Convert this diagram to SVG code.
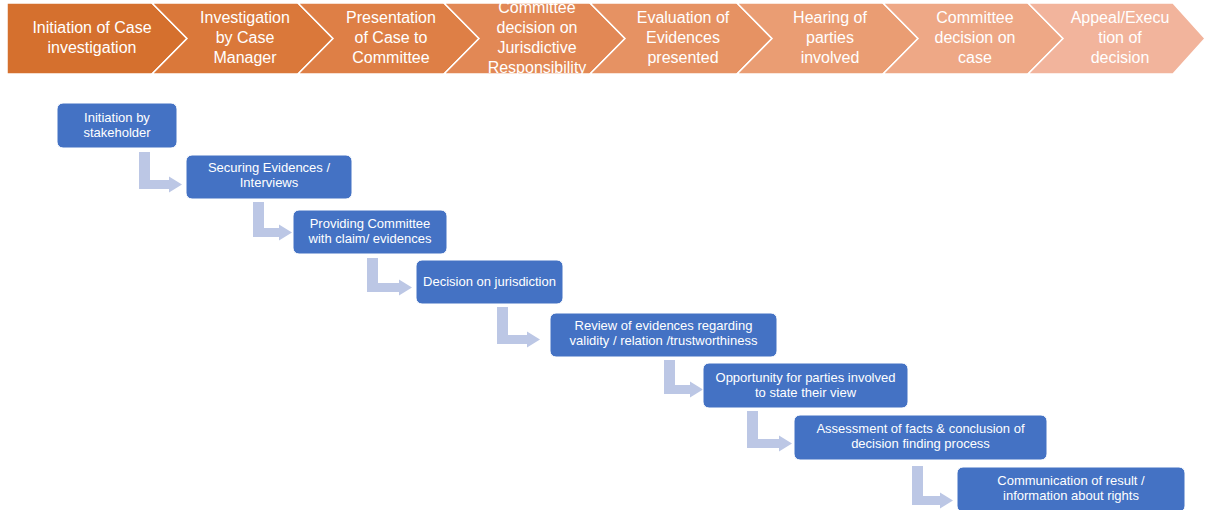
<svg xmlns="http://www.w3.org/2000/svg" width="1205" height="510" viewBox="0 0 1205 510">
<style>
.chev{stroke:#ffffff;stroke-width:1.5}
.ht{font-family:"Liberation Sans",Arial,sans-serif;font-size:16px;fill:#ffffff;text-anchor:middle}
.box{fill:#4472C4;stroke:#ffffff;stroke-width:1}
.bt{font-family:"Liberation Sans",Arial,sans-serif;font-size:13px;fill:#ffffff;text-anchor:middle}
.arr{fill:#BCC7E5}
</style>
<rect width="1205" height="510" fill="#ffffff"/>
<g id="header">
<g id="h1"><polygon class="chev" fill="#D5702E" points="7,3 152,3 187,38.5 152,74 7,74"/>
<text class="ht" x="92" y="33">Initiation of Case</text><text class="ht" x="92" y="53">investigation</text></g>
<g id="h2"><polygon class="chev" fill="#DA783A" points="152,3 298,3 333,38.5 298,74 152,74 187,38.5"/>
<text class="ht" x="245" y="23">Investigation</text><text class="ht" x="245" y="43">by Case</text><text class="ht" x="245" y="63">Manager</text></g>
<g id="h3"><polygon class="chev" fill="#DE7F46" points="298,3 444,3 479,38.5 444,74 298,74 333,38.5"/>
<text class="ht" x="391" y="23">Presentation</text><text class="ht" x="391" y="43">of Case to</text><text class="ht" x="391" y="63">Committee</text></g>
<g id="h4"><polygon class="chev" fill="#E28855" points="444,3 590,3 625,38.5 590,74 444,74 479,38.5"/>
<text class="ht" x="537" y="12.5">Committee</text><text class="ht" x="537" y="32.5">decision on</text><text class="ht" x="537" y="52.5">Jurisdictive</text><text class="ht" x="537" y="72.5">Responsibility</text></g>
<g id="h5"><polygon class="chev" fill="#E69263" points="590,3 737,3 772,38.5 737,74 590,74 625,38.5"/>
<text class="ht" x="683" y="23">Evaluation of</text><text class="ht" x="683" y="43">Evidences</text><text class="ht" x="683" y="63">presented</text></g>
<g id="h6"><polygon class="chev" fill="#EA9D73" points="737,3 883,3 918,38.5 883,74 737,74 772,38.5"/>
<text class="ht" x="830" y="23">Hearing of</text><text class="ht" x="830" y="43">parties</text><text class="ht" x="830" y="63">involved</text></g>
<g id="h7"><polygon class="chev" fill="#EEA886" points="883,3 1028,3 1063,38.5 1028,74 883,74 918,38.5"/>
<text class="ht" x="975" y="23">Committee</text><text class="ht" x="975" y="43">decision on</text><text class="ht" x="975" y="63">case</text></g>
<g id="h8"><polygon class="chev" fill="#F2B49C" points="1028,3 1173,3 1205,38.5 1173,74 1028,74 1063,38.5"/>
<text class="ht" x="1120" y="23">Appeal/Execu</text><text class="ht" x="1120" y="43">tion of</text><text class="ht" x="1120" y="63">decision</text></g>
</g>
<g id="connectors">
<path class="arr" d="M139,152 H150 V180 H169 V176.5 L182,184.5 L169,192.5 V189 H139 Z"/>
<path class="arr" d="M253,202 H264 V228 H279 V224.5 L292,232.5 L279,240.5 V237 H253 Z"/>
<path class="arr" d="M367,258 H378 V283 H399 V279.5 L412,287.5 L399,295.5 V292 H367 Z"/>
<path class="arr" d="M497,307 H508 V335 H527 V331.5 L540,339.5 L527,347.5 V344 H497 Z"/>
<path class="arr" d="M664,360 H675 V385 H690 V381.5 L703,389.5 L690,397.5 V394 H664 Z"/>
<path class="arr" d="M747,411 H758 V439 H779 V435.5 L792,443.5 L779,451.5 V448 H747 Z"/>
<path class="arr" d="M912,466 H923 V496 H940 V492.5 L953,500.5 L940,508.5 V505 H912 Z"/>
</g>
<g id="n1"><rect class="box" x="57" y="103" width="120" height="45" rx="6"/>
<text class="bt" x="117" y="122">Initiation by</text><text class="bt" x="117" y="137">stakeholder</text></g>
<g id="n2"><rect class="box" x="186" y="155" width="166" height="44" rx="6"/>
<text class="bt" x="269" y="172">Securing Evidences /</text><text class="bt" x="269" y="187">Interviews</text></g>
<g id="n3"><rect class="box" x="293" y="210" width="154" height="44" rx="6"/>
<text class="bt" x="370" y="228">Providing Committee</text><text class="bt" x="370" y="243">with claim/ evidences</text></g>
<g id="n4"><rect class="box" x="416" y="260" width="147" height="44" rx="6"/>
<text class="bt" x="489.5" y="286">Decision on jurisdiction</text></g>
<g id="n5"><rect class="box" x="550" y="313" width="227" height="44" rx="6"/>
<text class="bt" x="663.5" y="330">Review of evidences regarding</text><text class="bt" x="663.5" y="345">validity / relation /trustworthiness</text></g>
<g id="n6"><rect class="box" x="703" y="363" width="205" height="45" rx="6"/>
<text class="bt" x="805.5" y="382">Opportunity for parties involved</text><text class="bt" x="805.5" y="397">to state their view</text></g>
<g id="n7"><rect class="box" x="794" y="415" width="253" height="45" rx="6"/>
<text class="bt" x="920.5" y="433">Assessment of facts &amp; conclusion of</text><text class="bt" x="920.5" y="448">decision finding process</text></g>
<g id="n8"><rect class="box" x="957" y="467" width="228" height="45" rx="6"/>
<text class="bt" x="1071" y="485">Communication of result /</text><text class="bt" x="1071" y="500">information about rights</text></g>
</svg>
